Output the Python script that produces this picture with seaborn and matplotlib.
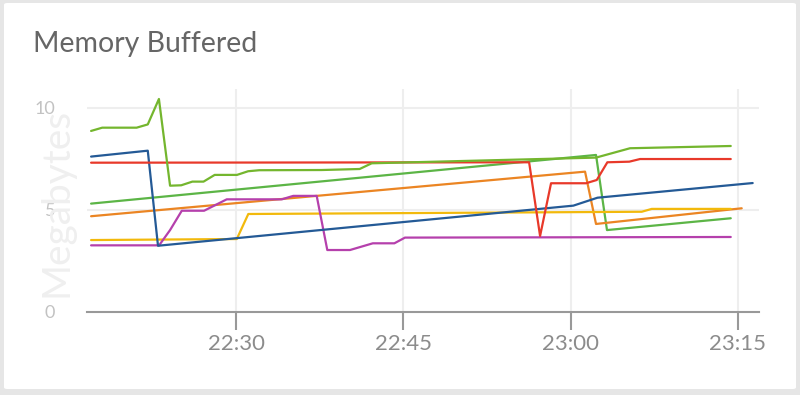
import matplotlib
matplotlib.use("Agg")
import numpy as np
import pandas as pd
import seaborn as sns
import matplotlib.pyplot as plt
import matplotlib.dates as mdates
from matplotlib.patches import FancyBboxPatch

DAY = "2024-01-01 "

blue_t = ["22:17:00", "22:22:05", "22:23:00", "23:00:15", "23:02:25", "23:16:20"]
blue_v = [7.61, 7.90, 3.23, 5.20, 5.59, 6.31]

lime_t = ["22:17:00", "22:18:00", "22:21:05", "22:22:05", "22:23:05", "22:24:05",
          "22:25:05", "22:26:05", "22:27:05", "22:28:05", "22:30:05", "22:31:05",
          "22:32:05", "22:37:40", "22:41:05", "22:42:10", "23:02:17", "23:05:20",
          "23:14:22"]
lime_v = [8.87, 9.03, 9.03, 9.19, 10.44, 6.18, 6.20, 6.38, 6.38, 6.71, 6.71, 6.89,
          6.94, 6.95, 7.00, 7.28, 7.56, 8.02, 8.13]

green_t = ["22:17:00", "23:02:17", "23:03:16", "23:14:22"]
green_v = [5.30, 7.69, 4.00, 4.58]

red_t = ["22:17:00", "22:56:17", "22:57:16", "22:58:15", "23:01:23", "23:02:21",
         "23:03:18", "23:05:16", "23:06:14", "23:14:22"]
red_v = [7.31, 7.33, 3.71, 6.30, 6.30, 6.46, 7.33, 7.36, 7.49, 7.49]

orange_t = ["22:17:00", "23:01:18", "23:02:17", "23:15:21"]
orange_v = [4.68, 6.87, 4.30, 5.07]

yellow_t = ["22:17:00", "22:30:04", "22:31:06", "23:06:23", "23:07:17", "23:14:22"]
yellow_v = [3.51, 3.56, 4.79, 4.90, 5.04, 5.04]

magenta_t = ["22:17:00", "22:23:06", "22:24:05", "22:25:08", "22:27:08", "22:29:10",
             "22:34:06", "22:35:08", "22:37:14", "22:38:11", "22:40:13", "22:42:16",
             "22:44:12", "22:45:09", "23:14:22"]
magenta_v = [3.25, 3.25, 4.00, 4.95, 4.95, 5.51, 5.51, 5.68, 5.68, 3.02, 3.02, 3.35,
             3.35, 3.63, 3.66]

x_ticks = ["22:30", "22:45", "23:00", "23:15"]
y_ticks = [0, 5, 10]

series = {
    "green": (green_t, green_v),
    "orange": (orange_t, orange_v),
    "yellow": (yellow_t, yellow_v),
    "magenta": (magenta_t, magenta_v),
    "blue": (blue_t, blue_v),
    "red": (red_t, red_v),
    "lime": (lime_t, lime_v),
}
palette = {
    "blue": "#245a96",
    "lime": "#74b62e",
    "green": "#5cb546",
    "red": "#e8392a",
    "orange": "#eb8523",
    "yellow": "#f2b90c",
    "magenta": "#b540ac",
}

rows = []
for name, (ts, vs) in series.items():
    for t, v in zip(ts, vs):
        rows.append({"time": pd.Timestamp(DAY + t), "value": v, "series": name})
df = pd.DataFrame(rows)

sns.set_theme(style="white")
plt.rcParams["font.family"] = ["Lato", "DejaVu Sans"]

fig = plt.figure(figsize=(8, 3.95), dpi=100)
fig.patch.set_facecolor("#e6e6e6")
card = FancyBboxPatch((4 / 800, 6 / 395), 792 / 800, 386 / 395,
                      boxstyle="round,pad=0,rounding_size=0.004",
                      transform=fig.transFigure, facecolor="white",
                      edgecolor="none", zorder=-10)
fig.patches.append(card)

ax = fig.add_axes([87 / 800, (395 - 311.5) / 395, (759 - 87) / 800, (311.5 - 89) / 395])
ax.set_facecolor("none")

sns.lineplot(data=df, x="time", y="value", hue="series", palette=palette,
             estimator=None, sort=False, linewidth=1.6, legend=False, ax=ax)

ax.set_xlim(pd.Timestamp(DAY + "22:16:38"), pd.Timestamp(DAY + "23:16:54"))
ax.set_ylim(0, 10.93)

ax.set_xticks([pd.Timestamp(DAY + t) for t in x_ticks])
ax.xaxis.set_major_formatter(mdates.DateFormatter("%H:%M"))
ax.set_yticks(y_ticks)
ax.set_yticklabels([str(v) for v in y_ticks])

for s in ["top", "right", "left"]:
    ax.spines[s].set_visible(False)
ax.spines["bottom"].set_color("#999999")
ax.spines["bottom"].set_linewidth(1.5)

ax.tick_params(axis="x", bottom=True, direction="out", length=13, width=1.5,
               color="#999999", labelcolor="#8c8c8c", labelsize=16, pad=3)
ax.tick_params(axis="y", left=False, length=0, labelcolor="#c2c2c2", labelsize=13, pad=23)

ax.grid(True, color="#eeeeee", linewidth=1.5)
ax.set_axisbelow(True)
ygl = ax.get_ygridlines()
ygl[0].set_visible(False)

ax.set_xlabel("")
ax.set_ylabel("Megabytes", color="#efefef", fontsize=28)
ax.yaxis.set_label_coords(-0.018, 0.49)

fig.text(33 / 800, 1 - 52 / 395, "Memory Buffered", color="#666666", fontsize=20.5,
         ha="left", va="baseline")

fig.savefig("out.png", dpi=100, facecolor=fig.get_facecolor())
